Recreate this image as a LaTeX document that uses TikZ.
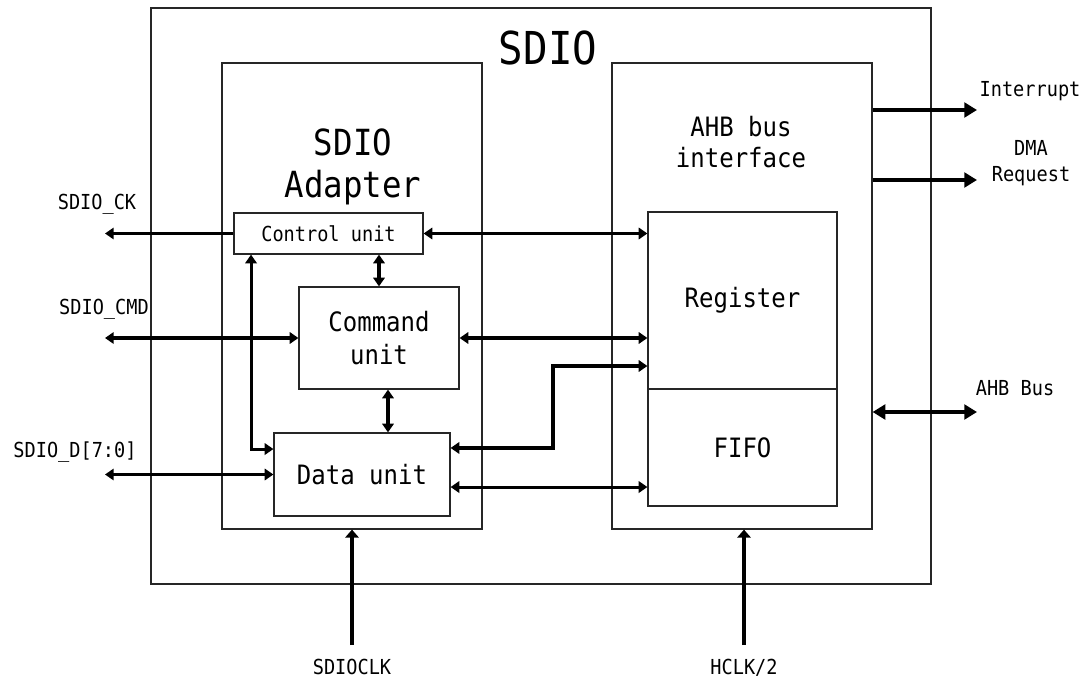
\documentclass[tikz,border=0pt]{standalone}
\usepackage{fontspec}
\setmainfont[FakeStretch=0.9]{DejaVu Sans Mono}
\usetikzlibrary{arrows.meta,positioning}
\tikzset{
  blk/.style={draw=black!85,line width=0.9pt,inner sep=0pt},
  lbl/.style={font=\fontsize{15.5}{19}\selectfont,inner sep=0pt},
  unit/.style={font=\fontsize{20}{25}\selectfont,align=center,inner sep=0pt},
  sig/.style={line width=2.3pt,>={Triangle[length=6.5pt,width=8.5pt]}},
  ext/.style={line width=2.3pt,>={Triangle[length=9.5pt,width=11pt]}},
  clk/.style={line width=2.5pt,>={Triangle[length=6pt,width=10pt]}},
}

\begin{document}
\begin{tikzpicture}[x=0.75pt,y=-0.75pt]
  \useasboundingbox (0,0) rectangle (1088,677);
  % outer blocks
  \node[blk,minimum width=585pt,minimum height=432pt] (sdio) at (541,296) {};
  \node[font=\fontsize{34}{40}\selectfont,inner sep=0pt,anchor=base] (title) at (548,65) {SDIO};
  \node[blk,minimum width=195pt,minimum height=349.5pt] (adapter) at (352,296) {};
  \node[blk,minimum width=195pt,minimum height=349.5pt] (ahb) at (742,296) {};
  \node[font=\fontsize{27}{32}\selectfont,align=center,inner sep=0pt] (adtitle) at (353,167) {SDIO\\Adapter};
  \node[unit,font=\fontsize{20}{23}\selectfont] (ahbtitle) at (741,142) {AHB bus\\interface};

  % units
  \node[blk,lbl,minimum width=141.75pt,minimum height=30.75pt] (ctrl) at (328.5,233.5) {Control unit};
  \node[blk,unit,minimum width=120pt,minimum height=76.5pt] (cmd) at (379,338) {Command\\unit};
  \node[blk,unit,minimum width=132pt,minimum height=62.25pt] (data) at (362,474.5) {Data unit};
  \node[blk,unit,minimum width=141.75pt,minimum height=132.75pt] (reg) at (742.5,300.5) {Register};
  \node[blk,unit,minimum width=141.75pt,minimum height=87.75pt] (fifo) at (742.5,447.5) {FIFO};

  % pins
  \coordinate (ck) at (105,233.5);
  \coordinate (cmdpin) at (105,338);
  \coordinate (datpin) at (105,474.5);
  \coordinate (intr) at (977,110);
  \coordinate (dma) at (977,180);
  \coordinate (bus) at (977,412);
  \coordinate (clkin) at (352,645);
  \coordinate (hclkin) at (744,645);
  \coordinate (bend) at (553,366);

  \node[lbl,anchor=base] (cklbl) at (97,210) {SDIO\_CK};
  \node[lbl,anchor=base] (cmdlbl) at (104,314) {SDIO\_CMD};
  \node[lbl,anchor=base] (datlbl) at (75,457) {SDIO\_D[7:0]};
  \node[lbl,anchor=base] (intrlbl) at (1030,97) {Interrupt};
  \node[lbl,align=center,font=\fontsize{15.5}{19}\selectfont] (dmalbl) at (1031,163) {DMA\\Request};
  \node[lbl,anchor=base] (buslbl) at (1015,395) {AHB Bus};
  \node[lbl,anchor=base] (clklbl) at (352,674) {SDIOCLK};
  \node[lbl,anchor=base] (hclklbl) at (744,674) {HCLK/2};

  % connections
  \draw[sig,->] (ctrl.west) -- (ck);
  \draw[sig,<->] (cmdpin) -- (cmd.west);
  \draw[sig,<->] (datpin) -- (data.west);
  \draw[sig,<->] (ctrl.east) -- (reg.west |- ctrl.east);
  \draw[sig,<->] (cmd.north |- ctrl.south) -- (cmd.north);
  \draw[sig,<->] ([xshift=6.75pt]cmd.south) coordinate (cd) -- (cd |- data.north);
  \draw[sig,<->] ([xshift=-58.1pt]ctrl.south) |- ([yshift=19.1pt]data.west);
  \draw[sig,<->] (cmd.east) -- (reg.west |- cmd.east);
  \draw[sig,<->] ([yshift=19.9pt]data.east) -| (bend) -- (reg.west |- bend);
  \draw[sig,<->] ([yshift=-9.4pt]data.east) coordinate (df) -- (df -| fifo.west);

  \draw[ext,->] (ahb.east |- intr) -- (intr);
  \draw[ext,->] (ahb.east |- dma) -- (dma);
  \draw[ext,<->] (ahb.east |- bus) -- (bus);
  \draw[clk,->] (clkin) -- (adapter.south);
  \draw[clk,->] (hclkin) -- (hclkin |- ahb.south);
\end{tikzpicture}
\end{document}
